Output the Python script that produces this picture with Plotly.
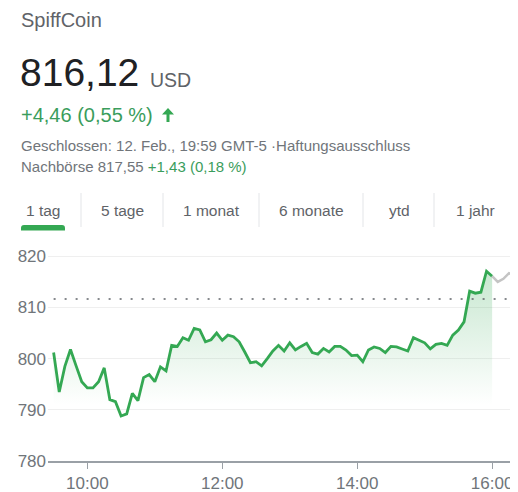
import plotly.graph_objects as go
import pandas as pd

# ---------------- data ----------------
title_name = "SpiffCoin"
price_text = "816,12"
currency = "USD"
change_text = "+4,46 (0,55 %)"
closed_text = "Geschlossen: 12. Feb., 19:59 GMT-5 ·Haftungsausschluss"
after_label = "Nachbörse 817,55 "
after_change = "+1,43 (0,18 %)"
tabs = ["1 tag", "5 tage", "1 monat", "6 monate", "ytd", "1 jahr"]

prev_close = 811.66

session_values = [
    801.2, 793.5, 798.5, 801.8, 798.6, 795.5, 794.3, 794.3, 795.5, 798.2,
    792.0, 791.6, 788.8, 789.2, 793.2, 791.8, 796.3, 796.9, 795.5, 798.4,
    797.6, 802.6, 802.4, 804.1, 803.6, 805.9, 805.6, 803.3, 803.7, 805.0,
    803.6, 804.6, 804.3, 803.3, 801.3, 799.2, 799.4, 798.6, 800.0, 801.5,
    802.6, 801.5, 803.1, 801.7, 802.4, 803.0, 801.2, 800.9, 802.0, 801.3,
    802.4, 802.4, 801.7, 800.6, 800.7, 799.4, 801.7, 802.3, 802.0, 801.2,
    802.4, 802.3, 801.9, 801.5, 804.1, 803.6, 803.1, 801.9, 802.8, 803.0,
    802.6, 804.6, 805.6, 807.2, 813.2, 812.8, 813.0, 817.1, 816.12,
]
after_values = [816.12, 815.0, 815.6, 816.7, 816.3, 816.6]

session_times = pd.date_range("2021-02-12 09:30", periods=len(session_values), freq="5min")
after_times = pd.date_range("2021-02-12 16:00", periods=len(after_values), freq="5min")

y_ticks = [780, 790, 800, 810, 820]
x_ticks = ["2021-02-12 10:00", "2021-02-12 12:00", "2021-02-12 14:00", "2021-02-12 16:00"]
x_ticktext = ["10:00", "12:00", "14:00", "16:00"]

# ---------------- style ----------------
GREEN = "#34a853"
GREEN_TXT = "#3a9d5c"
GREY_TXT = "#70757a"
DARK = "#202124"
FONT = "Liberation Sans, Arial, sans-serif"

# the page body adds an 8px margin; layout below is expressed in page pixels
OFF = 8
W, H = 518, 492
PL, PR, PT, PB = 48, 518, 241, 461          # plot area in page pixels
ML, MR, MT = PL - OFF, W + OFF - PR, PT - OFF
MB = H + OFF - PB
PW, PH = PR - PL, PB - PT


def PX(x):
    return (x - PL) / PW


def PY(y):
    return (PB - y) / PH


fig = go.Figure()

fig.add_trace(go.Scatter(
    x=session_times, y=session_values, mode="lines",
    line=dict(color=GREEN, width=2.8),
    fill="tozeroy",
    fillgradient=dict(type="vertical", start=791, stop=817,
                      colorscale=[[0, "rgba(52,168,83,0)"], [1, "rgba(52,168,83,0.27)"]]),
    hoverinfo="skip", showlegend=False,
))
fig.add_trace(go.Scatter(
    x=after_times, y=after_values, mode="lines",
    line=dict(color="#c4c4c4", width=2.5),
    hoverinfo="skip", showlegend=False,
))

shapes = []
# previous close dotted line
shapes.append(dict(type="line", xref="x", yref="y",
                   x0=session_times[0], x1=after_times[-1], y0=prev_close, y1=prev_close,
                   line=dict(color="#5f6368", width=1.6, dash="2px,9px"), layer="above"))

# tab separators
for sx in [81, 163, 259, 363, 434, 513]:
    shapes.append(dict(type="line", xref="paper", yref="paper",
                       x0=PX(sx), x1=PX(sx), y0=PY(193), y1=PY(227),
                       line=dict(color="#e3e5e8", width=1)))

# selected tab underline (rounded top)
x0, x1, yt, yb, r = 21, 65, 225, 230.5, 3


def p(x, y):
    return f"{PX(x):.5f},{PY(y):.5f}"


path = (f"M {p(x0, yb)} L {p(x0, yt + r)} Q {p(x0, yt)} {p(x0 + r, yt)} "
        f"L {p(x1 - r, yt)} Q {p(x1, yt)} {p(x1, yt + r)} L {p(x1, yb)} Z")
shapes.append(dict(type="path", xref="paper", yref="paper", path=path,
                   fillcolor=GREEN, line=dict(width=0)))

# up arrow next to the change
ax = 168
arrow = (f"M {p(ax - 6, 114.5)} L {p(ax, 108)} L {p(ax + 6, 114.5)} L {p(ax + 1.5, 114.5)} "
         f"L {p(ax + 1.5, 122)} L {p(ax - 1.5, 122)} L {p(ax - 1.5, 114.5)} Z")
shapes.append(dict(type="path", xref="paper", yref="paper", path=arrow,
                   fillcolor=GREEN, line=dict(width=0)))

ann = []


def text(x, y, t, size, color, anchor="left"):
    ann.append(dict(xref="paper", yref="paper", x=PX(x), y=PY(y), text=t,
                    xanchor=anchor, yanchor="middle", showarrow=False,
                    font=dict(family=FONT, size=size, color=color)))


text(19, 20, title_name, 20, "#5f6368")
text(18, 72, price_text, 39, DARK)
text(148, 80, currency, 19.5, "#5f6368")
text(19, 115, change_text, 20, GREEN_TXT)
text(19, 145, closed_text, 15, GREY_TXT)
ann.append(dict(xref="paper", yref="paper", x=PX(19), y=PY(166),
                text=f"{after_label}<span style='color:{GREEN_TXT}'>{after_change}</span>",
                xanchor="left", yanchor="middle", showarrow=False,
                font=dict(family=FONT, size=15, color=GREY_TXT)))

tab_centers = [43, 122, 211, 311, 399, 475]
for tx, t in zip(tab_centers, tabs):
    text(tx, 210, t, 15.5, "#5f6368", anchor="center")

fig.update_layout(
    width=W, height=H,
    margin=dict(l=ML, r=MR, t=MT, b=MB, pad=0),
    paper_bgcolor="white", plot_bgcolor="white",
    font=dict(family=FONT, size=16, color=GREY_TXT),
    shapes=shapes, annotations=ann,
    xaxis=dict(
        range=["2021-02-12 09:25", "2021-02-12 16:23"],
        tickvals=x_ticks, ticktext=x_ticktext,
        showgrid=False, zeroline=False,
        showline=True, linecolor="#9aa0a6", linewidth=2,
        ticks="outside", ticklen=6, tickwidth=1, tickcolor="#9aa0a6",
        tickfont=dict(size=17, color=GREY_TXT),
        fixedrange=True,
    ),
    yaxis=dict(
        range=[780, 823], tickvals=y_ticks,
        showgrid=True, gridcolor="#efefef", gridwidth=1,
        zeroline=False, showline=False, ticks="",
        tickfont=dict(size=17, color=GREY_TXT),
        ticklabelstandoff=1,
        fixedrange=True,
    ),
)

fig.write_html("out.html", config={"displayModeBar": False})
